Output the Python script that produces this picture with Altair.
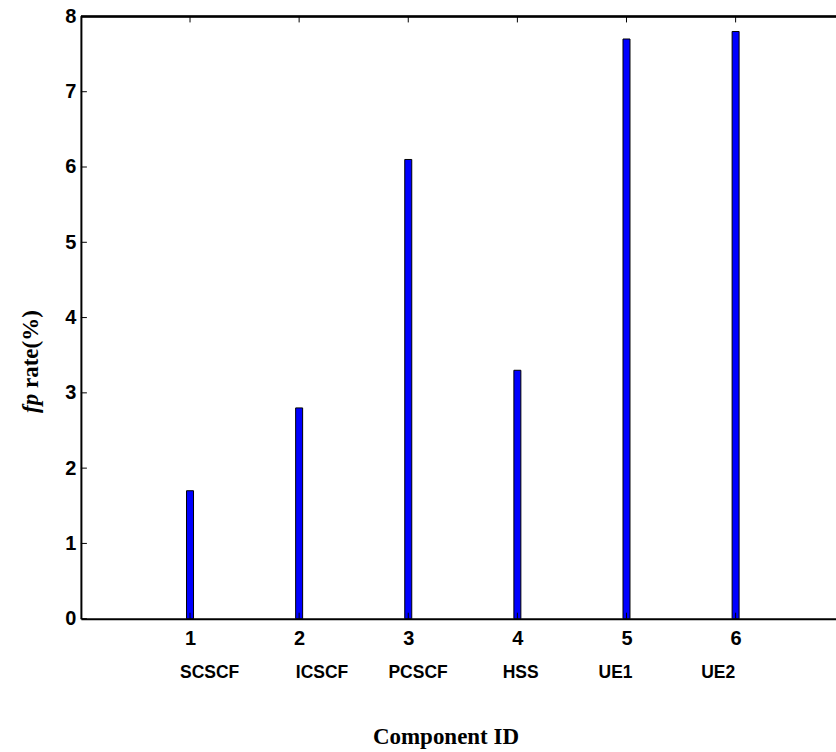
import altair as alt
import pandas as pd

# data
component_ids = [1, 2, 3, 4, 5, 6]
component_names = ["SCSCF", "ICSCF", "PCSCF", "HSS", "UE1", "UE2"]
fp_rates = [1.7, 2.8, 6.1, 3.3, 7.7, 7.8]
name_x = [1.18, 2.21, 3.09, 4.03, 4.90, 5.84]
y_ticks = [0, 1, 2, 3, 4, 5, 6, 7, 8]

W, H = 756, 603

df = pd.DataFrame({"id": component_ids, "rate": fp_rates})
names_df = pd.DataFrame({"nx": name_x, "name": component_names})
yt_df = pd.DataFrame({"yt": y_ticks})
xt_df = pd.DataFrame({"xt": component_ids})

xscale = alt.Scale(domain=[0, 6.92], nice=False, zero=False, padding=0)
yscale = alt.Scale(domain=[0, 8], nice=False, padding=0)

xaxis = alt.Axis(
    values=component_ids, format="d", grid=False, tickSize=0,
    labelFont="Liberation Sans", labelFontWeight="bold", labelFontSize=20,
    labelColor="black", labelPadding=10,
    domainColor="black", domainWidth=2,
    title="Component ID", titleFont="Liberation Serif", titleFontWeight="bold",
    titleFontSize=23, titleColor="black", titleX=365, titleY=118,
    titleBaseline="middle", titleAlign="center", titleAnchor="start",
)
yaxis = alt.Axis(
    values=y_ticks, format="d", grid=False, tickSize=0,
    labelFont="Liberation Sans", labelFontWeight="bold", labelFontSize=20,
    labelColor="black", labelPadding=5,
    domainColor="black", domainWidth=2, title=None,
)

bars = alt.Chart(df).mark_bar(size=7, color="#0000FF", stroke="black", strokeWidth=1).encode(
    x=alt.X("id:Q", scale=xscale, axis=xaxis),
    y=alt.Y("rate:Q", scale=yscale, axis=yaxis),
)

top_line = alt.Chart(df).mark_rule(color="black", strokeWidth=1.5).encode(
    x=alt.value(0), x2=alt.value(W), y=alt.value(0)
)

top_ticks = alt.Chart(xt_df).mark_rule(color="black", strokeWidth=1).encode(
    x=alt.X("xt:Q", scale=xscale), y=alt.value(0), y2=alt.value(6)
)
bottom_ticks = alt.Chart(xt_df).mark_rule(color="black", strokeWidth=1).encode(
    x=alt.X("xt:Q", scale=xscale), y=alt.value(H), y2=alt.value(H - 6)
)
left_ticks = alt.Chart(yt_df).mark_rule(color="black", strokeWidth=1).encode(
    y=alt.Y("yt:Q", scale=yscale), x=alt.value(0), x2=alt.value(6)
)

names = alt.Chart(names_df).mark_text(
    font="Liberation Sans", fontWeight="bold", fontSize=17.5, color="black",
    align="center", baseline="middle",
).encode(
    x=alt.X("nx:Q", scale=xscale), y=alt.value(657), text="name:N"
)

fp_text = alt.Chart(df.head(1)).mark_text(
    font="Liberation Serif", fontWeight="bold", fontStyle="italic", fontSize=23,
    color="black", angle=270, align="left", baseline="middle",
).encode(x=alt.value(-50), y=alt.value(397), text=alt.value("fp"))

rate_text = alt.Chart(df.head(1)).mark_text(
    font="Liberation Serif", fontWeight="bold", fontSize=23,
    color="black", angle=270, align="left", baseline="middle",
).encode(x=alt.value(-50), y=alt.value(372), text=alt.value("rate(%)"))

chart = alt.layer(
    bars, top_line, top_ticks, bottom_ticks, left_ticks, names, fp_text, rate_text
).properties(
    width=W, height=H,
    autosize=alt.AutoSizeParams(type="none"),
    padding={"left": 81, "top": 16, "right": 0, "bottom": 133},
    background="white",
).configure_view(stroke=None)

chart.save("out.html", embed_options={"renderer": "svg", "actions": False})
